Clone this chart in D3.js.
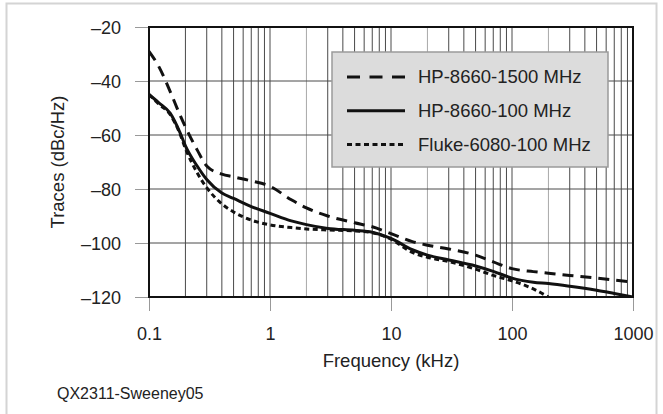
<!DOCTYPE html>
<html>
<head>
<meta charset="utf-8">
<script src="https://cdn.jsdelivr.net/npm/d3@7"></script>
<style>
  body { margin: 0; background: #fff; }
  text { font-family: "Liberation Sans", Arial, sans-serif; fill: #222; }
</style>
</head>
<body>
<div id="chart-area"></div>
<script>
// frequency points (kHz) shared by the traces
var freqKHz = [0.1, 0.12, 0.15, 0.18, 0.2, 0.25, 0.3, 0.4, 0.5, 0.7, 1, 1.5, 2, 3, 5, 7,
               10, 15, 20, 30, 50, 70, 100, 150, 200, 300, 500, 700, 1000];

var hp1500 = [-29, -34.5, -44, -52.5, -57, -65.5, -71.5, -74.5, -75.5, -77, -79, -84, -87, -90, -92.5, -94,
              -96.5, -99.5, -100.8, -102.2, -104.5, -107, -109.5, -110.6, -111.2, -112, -113, -113.7, -114.5];
var hp100  = [-45, -48, -52, -59, -64, -71.5, -76.5, -81.5, -83.5, -86.5, -89, -91.8, -93.2, -94.6, -95.3, -96,
              -98.3, -102.5, -104.5, -106.3, -108.5, -110.5, -113, -114.5, -115, -116, -117.5, -118.7, -120];
var fluke  = [-45, -48.5, -52.5, -59.5, -65, -74, -79.5, -85.5, -88.5, -91.5, -93.3, -94.3, -94.8, -95.2, -95.5, -96.2,
              -98.6, -103.5, -105.3, -106.9, -109.7, -112, -114, -117, -120, null, null, null, null];

var seriesNames = ["HP-8660-1500 MHz", "HP-8660-100 MHz", "Fluke-6080-100 MHz"];
var seriesDash = ["11,7", null, "5,3.5"];

var xTicks = [0.1, 1, 10, 100, 1000];
var yTicks = [-20, -40, -60, -80, -100, -120];

var svg = d3.select("#chart-area").append("svg")
  .attr("width", 663)
  .attr("height", 414);

// light outer frame
svg.append("rect")
  .attr("x", 6.5).attr("y", 3.5)
  .attr("width", 650).attr("height", 430)
  .attr("fill", "none")
  .attr("stroke", "#d4d4d4")
  .attr("stroke-width", 2);

var pLeft = 149, pRight = 633, pTop = 27, pBottom = 297;

var x = d3.scaleLog().domain([0.1, 1000]).range([pLeft, pRight]);
var y = d3.scaleLinear().domain([-120, -20]).range([pBottom, pTop]);

// vertical grid, 1..9 in each decade
var minor = [];
for (var d = 0.1; d < 1000; d *= 10) {
  for (var k = 2; k <= 10; k++) minor.push(+(d * k).toPrecision(3));
}
svg.append("g").selectAll("line").data(minor).enter().append("line")
  .attr("x1", (d) => x(d)).attr("x2", (d) => x(d))
  .attr("y1", pTop).attr("y2", pBottom)
  .attr("stroke", (d) => String(d).charAt(0) == "2" ? "#a8a8a8" : "#4a4a4a")
  .attr("stroke-width", 1);

// horizontal grid
svg.append("g").selectAll("line").data(yTicks).enter().append("line")
  .attr("x1", pLeft).attr("x2", pRight)
  .attr("y1", (d) => y(d)).attr("y2", (d) => y(d))
  .attr("stroke", "#4a4a4a")
  .attr("stroke-width", 1);

// axes
var fmt = (v) => String(v).replace("-", "\u2013");

var xAxis = svg.append("g")
  .attr("transform", "translate(0," + pBottom + ")")
  .call(d3.axisBottom(x).tickValues(xTicks).tickSize(14).tickFormat((d) => String(d)));
xAxis.select(".domain").remove();
xAxis.selectAll("line").attr("stroke", "#999");
xAxis.selectAll("text").attr("y", 43).attr("dy", null)
  .style("font-size", "18px").style("font-family", "'Liberation Sans', Arial, sans-serif").attr("fill", "#222");

var yAxis = svg.append("g")
  .attr("transform", "translate(" + pLeft + ",0)")
  .call(d3.axisLeft(y).tickValues(yTicks).tickSize(14).tickFormat(fmt));
yAxis.select(".domain").remove();
yAxis.selectAll("line").attr("stroke", "#999");
yAxis.selectAll("text").attr("x", -28).attr("dy", "0.36em")
  .style("font-size", "18px").style("font-family", "'Liberation Sans', Arial, sans-serif").attr("fill", "#222");

// plot frame
svg.append("rect")
  .attr("x", pLeft).attr("y", pTop)
  .attr("width", pRight - pLeft).attr("height", pBottom - pTop)
  .attr("fill", "none")
  .attr("stroke", "#111")
  .attr("stroke-width", 2);

// traces
svg.append("clipPath").attr("id", "plot-clip").append("rect")
  .attr("x", pLeft).attr("y", pTop - 2)
  .attr("width", pRight - pLeft).attr("height", pBottom - pTop + 2);

var line = d3.line()
  .defined((d) => d[1] != null)
  .x((d) => x(d[0]))
  .y((d) => y(d[1]))
  .curve(d3.curveMonotoneX);

var traces = [hp1500, hp100, fluke];
svg.append("g").attr("clip-path", "url(#plot-clip)")
  .selectAll("path").data(traces).enter().append("path")
  .attr("d", (vals) => line(vals.map((v, i) => [freqKHz[i], v])))
  .attr("fill", "none")
  .attr("stroke", "#111")
  .attr("stroke-width", 3)
  .attr("stroke-dasharray", (d, i) => seriesDash[i]);

// legend
var legend = svg.append("g");
legend.append("rect")
  .attr("x", 332).attr("y", 52)
  .attr("width", 276).attr("height", 115)
  .attr("fill", "#dcdcdc")
  .attr("stroke", "#9a9a9a")
  .attr("stroke-width", 1.5);

var rows = legend.selectAll("g.row").data(seriesNames).enter().append("g")
  .attr("class", "row")
  .attr("transform", (d, i) => "translate(0," + (77 + i * 33.8) + ")");
rows.append("line")
  .attr("x1", 347).attr("x2", 405)
  .attr("stroke", "#111")
  .attr("stroke-width", 3)
  .attr("stroke-dasharray", (d, i) => i == 0 ? "13,9.5" : seriesDash[i]);
rows.append("text")
  .attr("x", 418).attr("y", 6)
  .style("font-size", "18.5px")
  .text((d) => d);

// titles
svg.append("text")
  .attr("transform", "translate(63.5," + ((pTop + pBottom) / 2) + ") rotate(-90)")
  .attr("text-anchor", "middle")
  .style("font-size", "18.5px")
  .text("Traces (dBc/Hz)");

svg.append("text")
  .attr("x", (pLeft + pRight) / 2).attr("y", 367)
  .attr("text-anchor", "middle")
  .style("font-size", "18.5px")
  .text("Frequency (kHz)");

svg.append("text")
  .attr("x", 57).attr("y", 399)
  .style("font-size", "16px")
  .text("QX2311-Sweeney05");
</script>
</body>
</html>
